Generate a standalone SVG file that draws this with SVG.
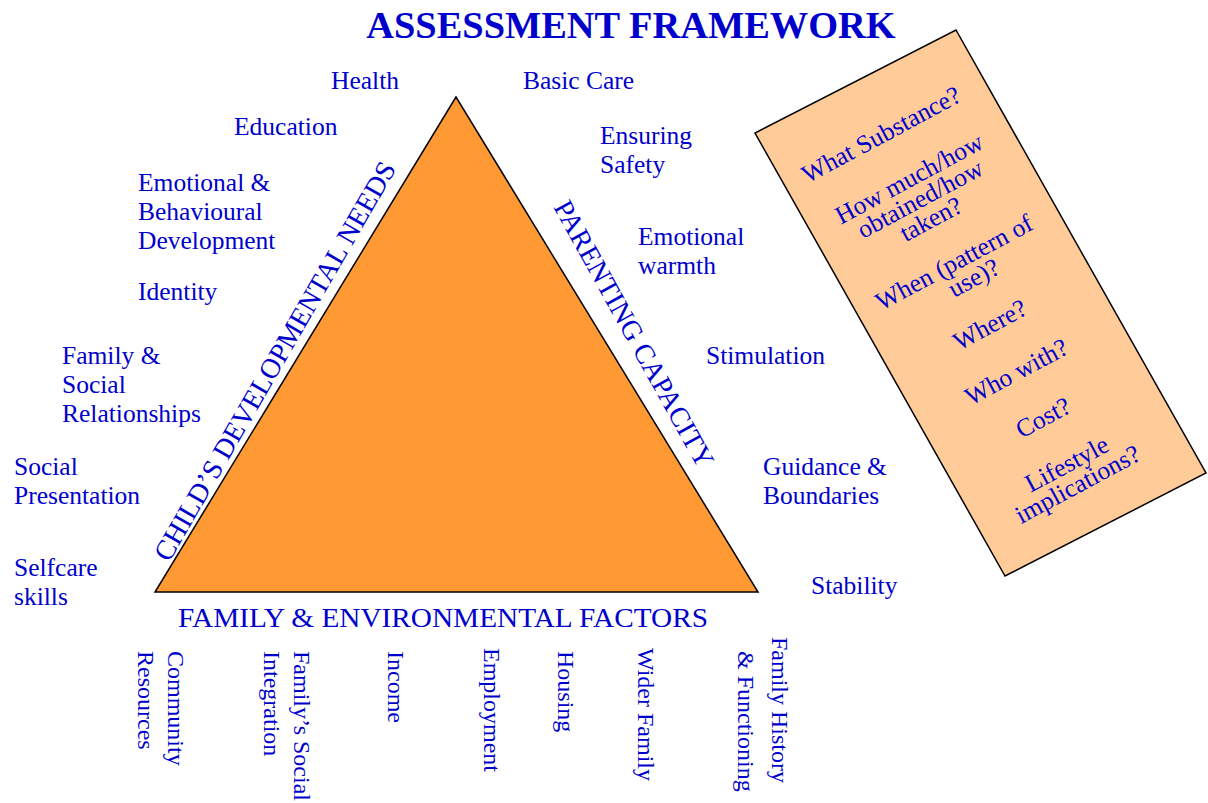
<svg xmlns="http://www.w3.org/2000/svg" width="1208" height="803" viewBox="0 0 1208 803">
<style>
text{font-family:"Liberation Serif","Times New Roman",serif;fill:#0000CC}
.t{font-size:38.4px;font-weight:bold}
.l{font-size:25.5px}
.c{font-size:28px}
.b{font-size:24px}
.q{font-size:25.5px;text-anchor:middle}
</style>
<rect width="1208" height="803" fill="#fff"/>
<text class="t" x="631" y="38" text-anchor="middle">ASSESSMENT FRAMEWORK</text>
<g id="triangle">
<polygon points="456,97 155,592 758,592" fill="#FF9933" stroke="#000" stroke-width="1.5"/>
<text class="c" transform="translate(169,563) rotate(-60)" font-size="27">CHILD’S DEVELOPMENTAL NEEDS</text>
<text class="c" transform="translate(553,207) rotate(61)">PARENTING CAPACITY</text>
<text class="c" x="178" y="627" font-size="29" textLength="530" lengthAdjust="spacingAndGlyphs">FAMILY &amp; ENVIRONMENTAL FACTORS</text>
</g>
<g id="child-needs">
<text class="l" x="331" y="89">Health</text>
<text class="l" x="234" y="135">Education</text>
<text class="l" x="138" y="191">Emotional &amp;<tspan x="138" dy="29">Behavioural</tspan><tspan x="138" dy="29">Development</tspan></text>
<text class="l" x="138" y="300">Identity</text>
<text class="l" x="62" y="364">Family &amp;<tspan x="62" dy="29">Social</tspan><tspan x="62" dy="29">Relationships</tspan></text>
<text class="l" x="14" y="475">Social<tspan x="14" dy="29">Presentation</tspan></text>
<text class="l" x="14" y="576">Selfcare<tspan x="14" dy="29">skills</tspan></text>
</g>
<g id="parenting">
<text class="l" x="523" y="89">Basic Care</text>
<text class="l" x="600" y="144">Ensuring<tspan x="600" dy="29">Safety</tspan></text>
<text class="l" x="638" y="245">Emotional<tspan x="638" dy="29">warmth</tspan></text>
<text class="l" x="706" y="364">Stimulation</text>
<text class="l" x="763" y="475">Guidance &amp;<tspan x="763" dy="29">Boundaries</tspan></text>
<text class="l" x="811" y="594">Stability</text>
</g>
<g id="family">
<text class="b" transform="translate(168,651) rotate(90)">Community</text>
<text class="b" transform="translate(138,651) rotate(90)">Resources</text>
<text class="b" transform="translate(294,651) rotate(90)">Family’s Social</text>
<text class="b" transform="translate(264,651) rotate(90)">Integration</text>
<text class="b" transform="translate(388,651) rotate(90)">Income</text>
<text class="b" transform="translate(484,648) rotate(90)">Employment</text>
<text class="b" transform="translate(558,651) rotate(90)">Housing</text>
<text class="b" transform="translate(638,648) rotate(90)">Wider Family</text>
<text class="b" transform="translate(772,637) rotate(90)">Family History</text>
<text class="b" transform="translate(738,651) rotate(90)">&amp; Functioning</text>
</g>
<g id="substance">
<polygon points="956,30 1206,473 1005,576 755,133" fill="#FFCC99" stroke="#000" stroke-width="1.5"/>
<g transform="translate(977,305) rotate(-28.2)">
<text class="q" x="-4" y="-187">What Substance?</text>
<text class="q" x="0" y="-135">How much/how<tspan x="0" dy="23">obtained/how</tspan><tspan x="0" dy="23">taken?</tspan></text>
<text class="q" x="0" y="-40">When (pattern of<tspan x="10" dy="23">use)?</tspan></text>
<text class="q" x="2" y="32">Where?</text>
<text class="q" x="3" y="86">Who with?</text>
<text class="q" x="5" y="139">Cost?</text>
<text class="q" x="4" y="191">Lifestyle<tspan x="4" dy="23">implications?</tspan></text>
</g>
</g>
</svg>
